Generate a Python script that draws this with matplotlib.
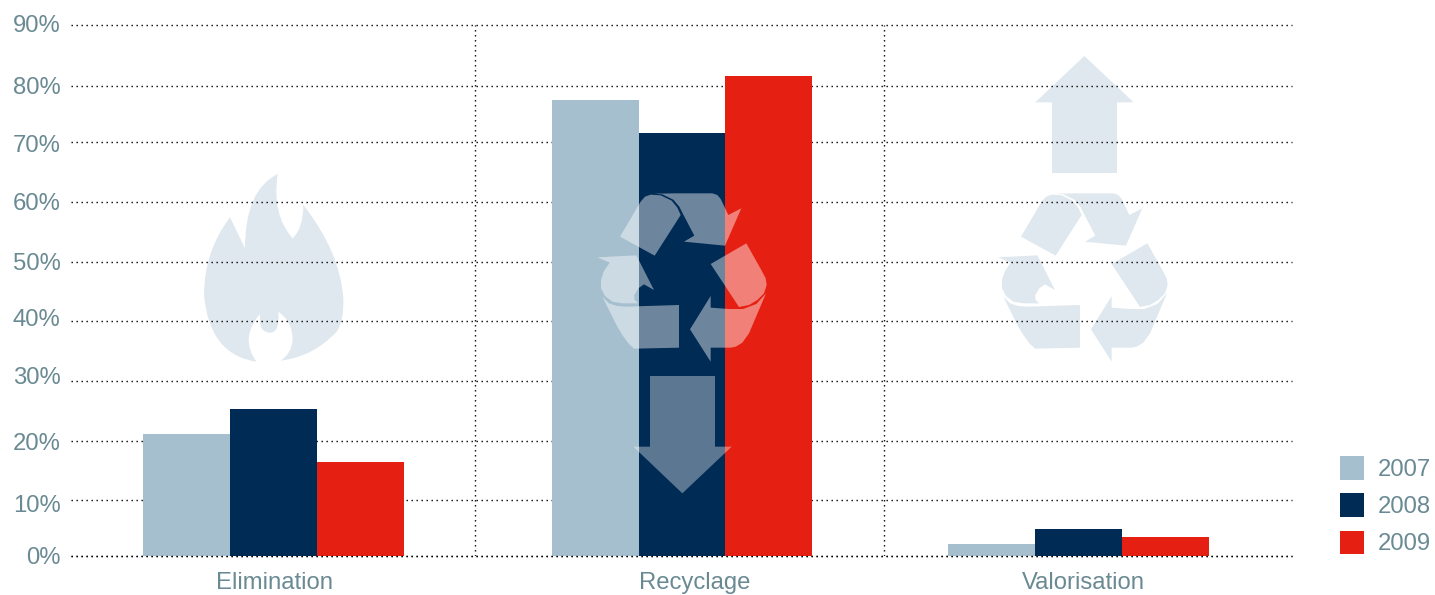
import numpy as np
import matplotlib
matplotlib.use("Agg")
import matplotlib.pyplot as plt
from matplotlib.patches import PathPatch
from matplotlib.path import Path
from matplotlib.transforms import Affine2D

plt.rcParams['font.family'] = ['Liberation Sans', 'DejaVu Sans']

# Data
categories = ["Elimination", "Recyclage", "Valorisation"]
years = ["2007", "2008", "2009"]
values_2007 = [21.2, 77.5, 2.1]
values_2008 = [25.3, 71.6, 4.8]
values_2009 = [16.4, 81.6, 3.4]
y_ticks = [0, 10, 20, 30, 40, 50, 60, 70, 80, 90]
y_labels = ["0%", "10%", "20%", "30%", "40%", "50%", "60%", "70%", "80%", "90%"]

# Colours
bar_colors = ["#A5BFCE", "#002B55", "#E52012"]
text_color = "#6A8A93"
icon_color = "#DFE8EE"

W, H = 1435, 595
fig = plt.figure(figsize=(W / 100, H / 100), dpi=100)
ax = fig.add_axes([71 / W, 1 - 556 / H, (1292 - 71) / W, (556 - 25) / H])

# The gridlines of the original are not evenly spaced, so the y scale follows them
grid_px = np.array([0, 56, 115, 175, 235, 294, 354, 414, 470, 531], dtype=float)
ax.set_yscale('function', functions=(
    lambda v: np.interp(v, y_ticks, grid_px),
    lambda p: np.interp(p, grid_px, y_ticks),
))
ax.set_ylim(0, 90)
ax.set_xlim(71, 1292)

# Bars, x axis is in picture pixels because the groups are unevenly placed
group_x = np.array([273.5, 682, 1078.5])
bar_w = 86.8
all_values = [values_2007, values_2008, values_2009]
for i, vals in enumerate(all_values):
    ax.bar(group_x + (i - 1) * bar_w, vals, bar_w, color=bar_colors[i],
           label=years[i], zorder=2)

# Grid
dots = (0, (1, 2.6))
ax.set_axisbelow(True)
ax.yaxis.grid(True, color="black", lw=1, linestyle=dots, clip_on=False)
for x in [475, 884]:
    ax.axvline(x, color="black", lw=1, linestyle=dots, zorder=0.5)
ax.axhline(0, color="black", lw=1, linestyle=dots, zorder=3, clip_on=False)

for s in ax.spines.values():
    s.set_visible(False)

ax.set_yticks(y_ticks)
ax.set_yticklabels(y_labels)
ax.set_xticks([274, 695, 1083])
ax.set_xticklabels(categories)
ax.tick_params(axis='both', length=0, labelsize=17.2, labelcolor=text_color)
ax.tick_params(axis='y', pad=7.4)
ax.tick_params(axis='x', pad=11.6)

# The y labels do not sit exactly on their gridlines in the original
label_shift = [0, 3, 1, -6, -3, -1, 0, 1, 0, -1]
for lab, shift in zip(ax.get_yticklabels(), label_shift):
    lab.set_transform(lab.get_transform() + Affine2D().translate(0, -shift))

# Legend
ax.legend(loc='lower left', bbox_to_anchor=(1340 / W, 1 - 555.5 / H), bbox_transform=fig.transFigure,
          frameon=False, fontsize=17.2, handlelength=1, handleheight=1.14,
          handletextpad=0.58, labelspacing=0.513, borderpad=0, borderaxespad=0,
          labelcolor=text_color)

# Icons, drawn in picture pixels
px = Affine2D().scale(1 / W, -1 / H).translate(0, 1) + fig.transFigure


def add_shape(pts, x0, y0, color, alpha, z, dx=0):
    verts = [(x0 + x / 3 + dx, y0 + y / 3) for x, y in pts]
    ax.add_patch(PathPatch(Path(verts + [verts[0]], closed=True), fc=color, ec='none',
                           alpha=alpha, zorder=z, transform=px, clip_on=False))


recycle_parts = [
    [(93, 560), (155, 455), (168, 440), (185, 434), (215, 436), (248, 452), (265, 473), (275, 495), (197, 617)],
    [(195, 431), (260, 430), (370, 430), (385, 435), (395, 447), (418, 495), (457, 475), (408, 587),
     (285, 575), (316, 557), (281, 490), (271, 470), (253, 449), (220, 433)],
    [(25, 622), (142, 616), (195, 720), (165, 703), (148, 715), (136, 735), (136, 748), (147, 760),
     (100, 760), (70, 755), (48, 738), (36, 715), (36, 690), (44, 665), (62, 638)],
    [(40, 740), (60, 760), (85, 768), (110, 770), (270, 765), (270, 893), (135, 896), (118, 880), (100, 855), (85, 830)],
    [(365, 642), (472, 580), (518, 662), (530, 685), (533, 705), (525, 730), (505, 750), (480, 765), (450, 771)],
    [(365, 738), (365, 773), (420, 777), (462, 777), (502, 762), (531, 730), (480, 850), (460, 878), (440, 890), (425, 893),
     (365, 893), (365, 935), (303, 838)],
]
arrow_up = [(283, 18), (431, 157), (381, 157), (381, 369), (186, 369), (186, 157), (136, 157)]
arrow_down = [(210, 588), (405, 588), (405, 800), (455, 800), (307, 940), (160, 800), (210, 800)]

# Valorisation icon sits under the grid
for part in recycle_parts:
    add_shape(part, 990, 50, icon_color, 1, 0.2)
add_shape(arrow_up, 990, 50, icon_color, 1, 0.2)

# Recyclage icon is the same shape, white over the bars
for part in recycle_parts:
    add_shape(part, 990, 50, "white", 0.43, 3, dx=-401)
add_shape(arrow_down, 580, 180, "white", 0.36, 3)

# Flame
flame = [
    (Path.MOVETO, (263, 27)),
    (Path.CURVE3, (165, 75)), (Path.CURVE3, (165, 250)),
    (Path.LINETO, (120, 157)),
    (Path.CURVE3, (42, 260)), (Path.CURVE3, (42, 390)),
    (Path.CURVE3, (58, 570)), (Path.CURVE3, (200, 590)),
    (Path.CURVE3, (175, 560)), (Path.CURVE3, (176, 520)),
    (Path.CURVE3, (180, 480)), (Path.CURVE3, (210, 447)),
    (Path.CURVE3, (205, 503)), (Path.CURVE3, (240, 503)),
    (Path.CURVE3, (270, 503)), (Path.CURVE3, (265, 440)),
    (Path.CURVE3, (308, 470)), (Path.CURVE3, (308, 525)),
    (Path.CURVE3, (305, 565)), (Path.CURVE3, (272, 587)),
    (Path.CURVE3, (370, 575)), (Path.CURVE3, (440, 500)),
    (Path.CURVE3, (462, 470)), (Path.CURVE3, (460, 400)),
    (Path.CURVE3, (450, 260)), (Path.CURVE3, (340, 120)),
    (Path.CURVE3, (340, 190)), (Path.CURVE3, (308, 220)),
    (Path.CURVE3, (245, 150)), (Path.CURVE3, (263, 27)),
]
flame_verts = [(190 + p[0] / 3, 165 + p[1] / 3) for c, p in flame]
flame_codes = [c for c, p in flame]
ax.add_patch(PathPatch(Path(flame_verts, flame_codes), fc=icon_color, ec='none', zorder=0.2,
                       transform=px, clip_on=False))

fig.savefig("out.png", dpi=100)
